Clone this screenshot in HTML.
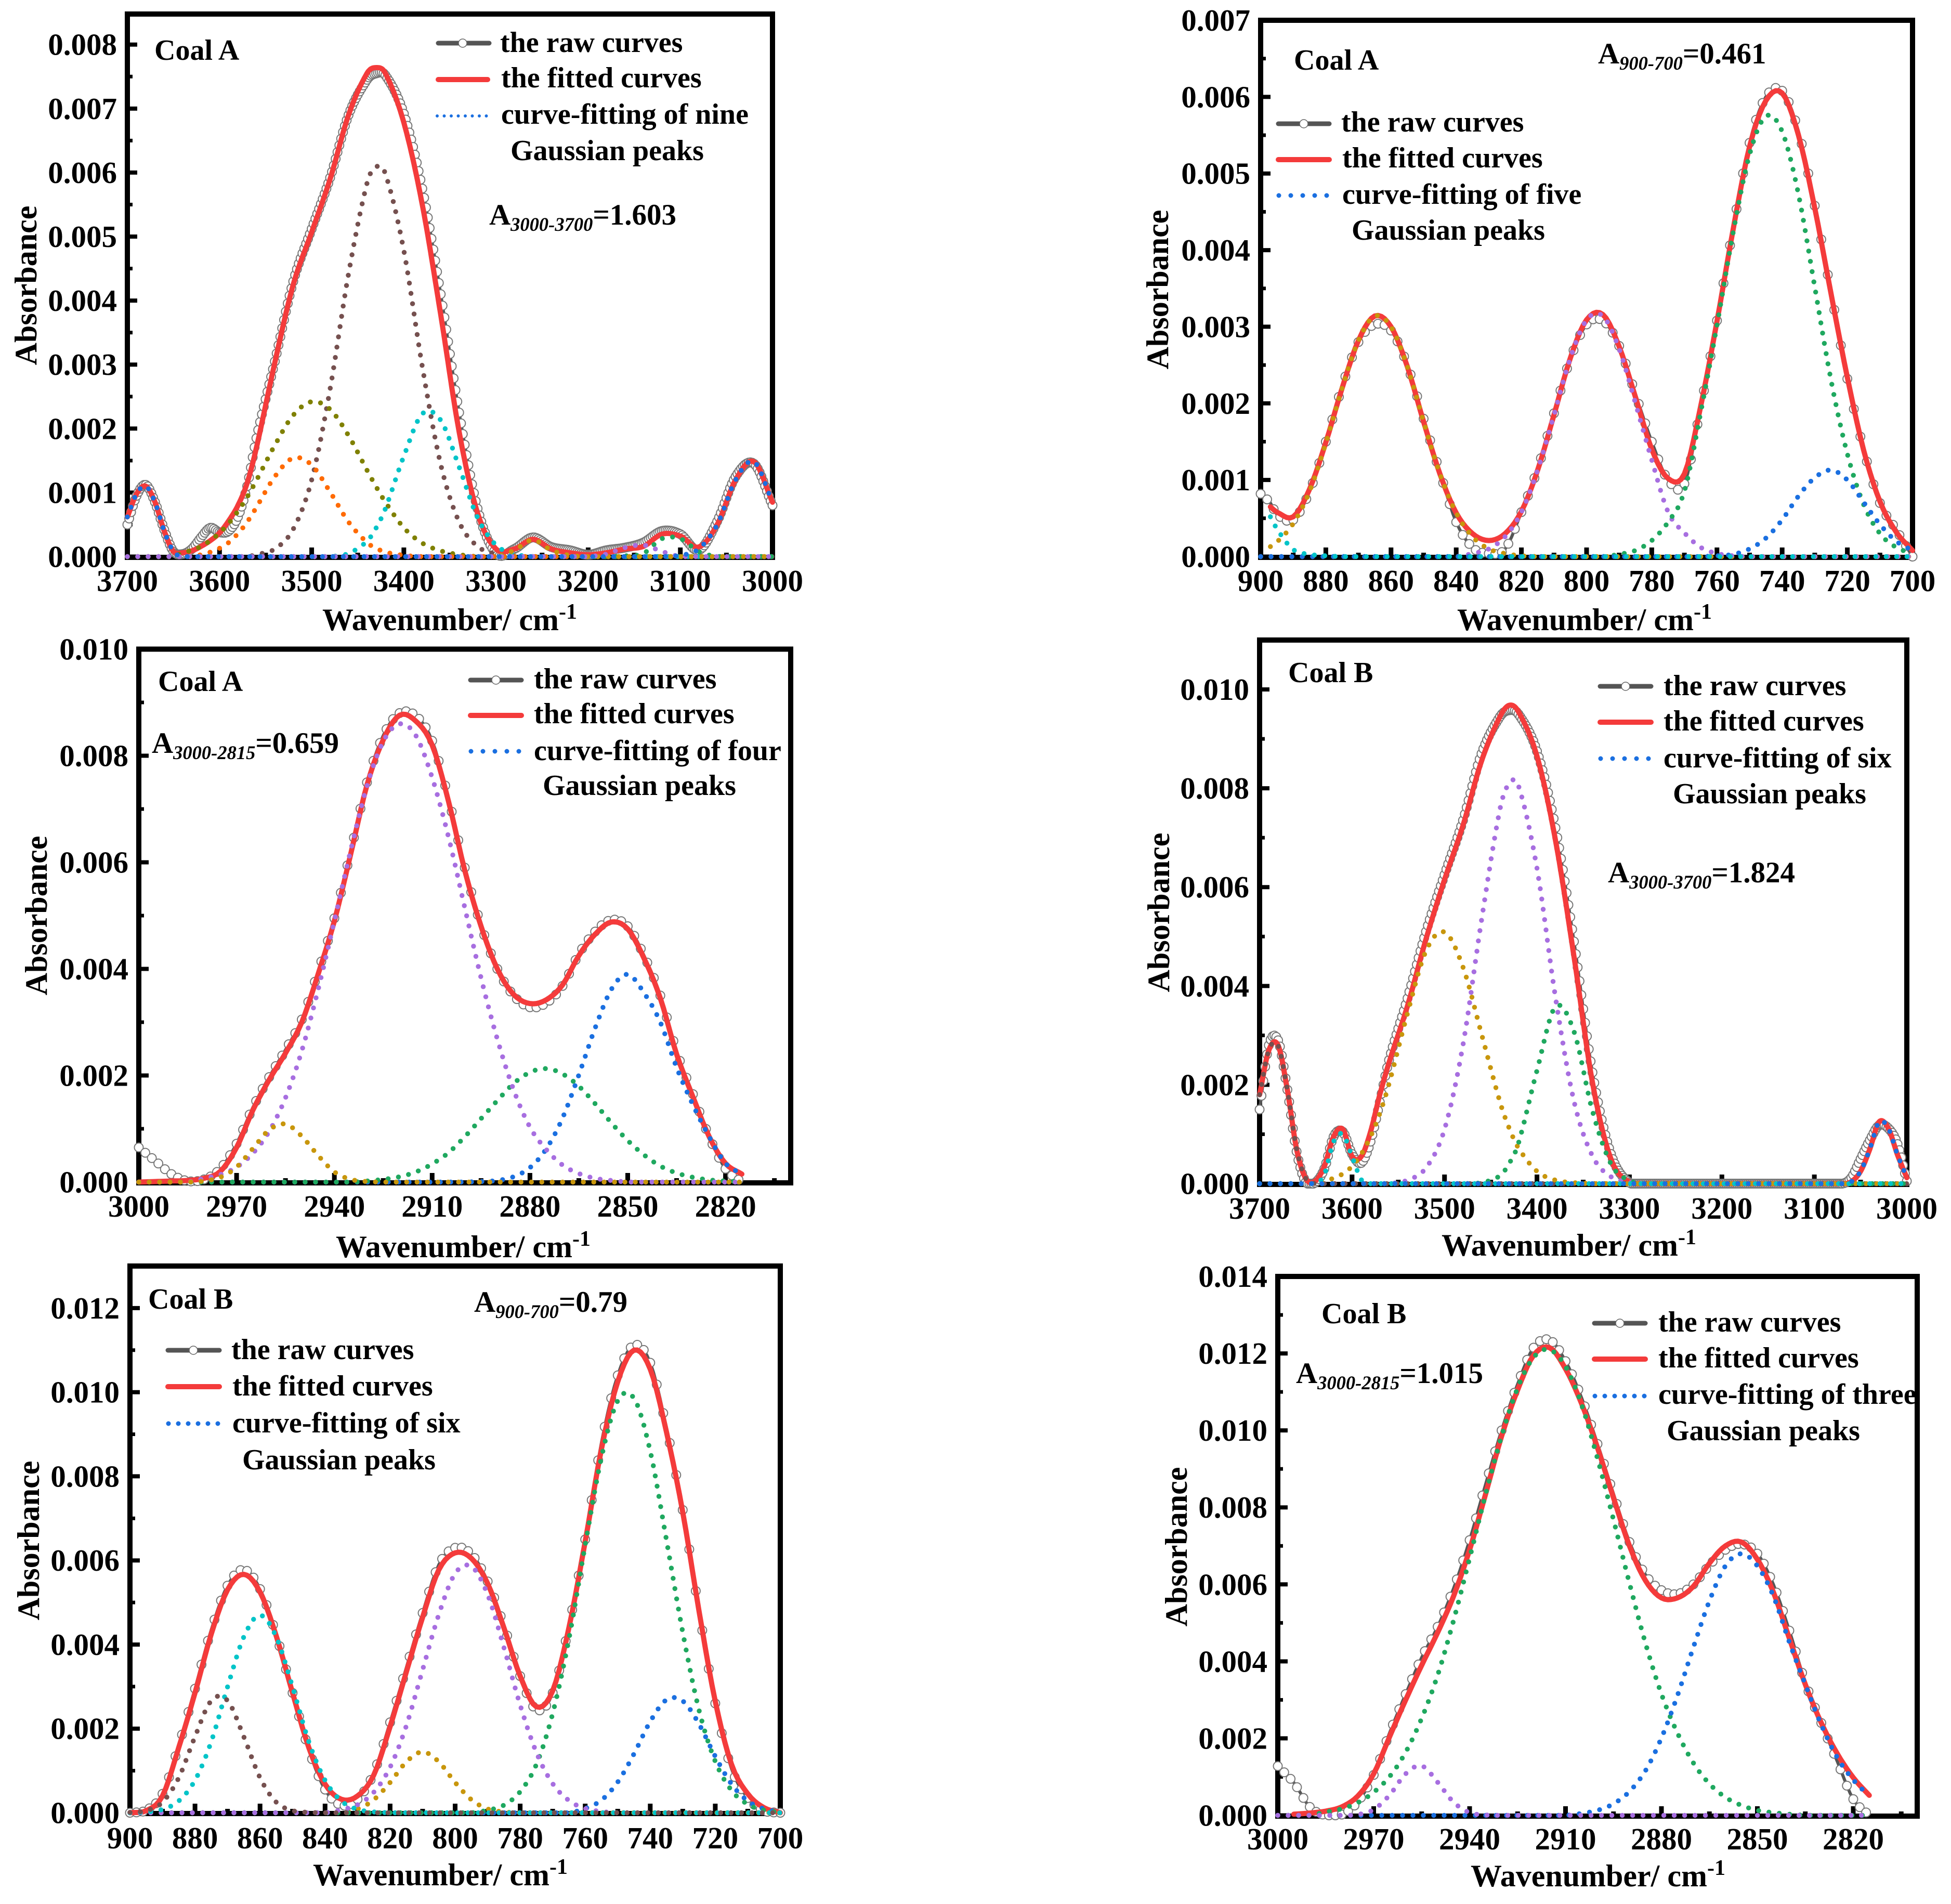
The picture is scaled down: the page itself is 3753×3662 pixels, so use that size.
<!DOCTYPE html>
<html lang="en">
<head>
<meta charset="utf-8">
<title>FTIR curve fitting of Coal A and Coal B</title>
<style>
html,body{margin:0;padding:0;background:#fff}
svg{display:block}
text{font-family:"Liberation Serif",serif;font-weight:bold;fill:#000}
.tick{font-size:59px}
.title{font-size:60px}
.leg{font-size:56px}
.coal{font-size:56px}
.area{font-size:57px}
.sub{font-size:36.5px;font-style:italic}
.sup{font-size:42px}
</style>
</head>
<body>
<svg xmlns="http://www.w3.org/2000/svg" width="3753" height="3662" viewBox="0 0 3753 3662">
<rect width="3753" height="3662" fill="#fff"/>

<g>
  <g id="p1"></g>
  <text class="title" text-anchor="middle" transform="translate(70 549) rotate(-90)">Absorbance</text>
  <text class="title" x="620" y="1212">Wavenumber/ cm<tspan class="sup" dy="-22">-1</tspan></text>
  <text class="coal" x="297" y="115">Coal A</text>
  <text class="area" x="941" y="432">A<tspan class="sub" dy="12">3000-3700</tspan><tspan dy="-12">=1.603</tspan></text>
  <line x1="843" x2="941" y1="83" y2="83" stroke="#555" stroke-width="9" stroke-linecap="round"/>
  <circle cx="890" cy="83" r="8" fill="#fff" stroke="#666" stroke-width="1.5"/>
  <line x1="843" x2="938" y1="153" y2="153" stroke="#f43b3b" stroke-width="10" stroke-linecap="round"/>
  <line x1="841" x2="938" y1="223" y2="223" stroke="#1a6fe0" stroke-width="6" stroke-linecap="round" stroke-dasharray="0 13.5"/>
  <text class="leg" x="962" y="100">the raw curves</text>
  <text class="leg" x="964" y="168">the fitted curves</text>
  <text class="leg" x="964" y="238">curve-fitting of nine</text>
  <text class="leg" x="982" y="308">Gaussian peaks</text>
</g>

<g>
  <g id="p2"></g>
  <text class="title" text-anchor="middle" transform="translate(2247 557) rotate(-90)">Absorbance</text>
  <text class="title" x="2803" y="1212">Wavenumber/ cm<tspan class="sup" dy="-22">-1</tspan></text>
  <text class="coal" x="2489" y="134">Coal A</text>
  <text class="area" x="3074" y="122">A<tspan class="sub" dy="12">900-700</tspan><tspan dy="-12">=0.461</tspan></text>
  <line x1="2459" x2="2557" y1="238" y2="238" stroke="#555" stroke-width="9" stroke-linecap="round"/>
  <circle cx="2508" cy="238" r="8" fill="#fff" stroke="#666" stroke-width="1.5"/>
  <line x1="2459" x2="2557" y1="307" y2="307" stroke="#f43b3b" stroke-width="10" stroke-linecap="round"/>
  <line x1="2460" x2="2556" y1="376" y2="376" stroke="#1a6fe0" stroke-width="9" stroke-linecap="round" stroke-dasharray="0 23"/>
  <text class="leg" x="2580" y="253">the raw curves</text>
  <text class="leg" x="2582" y="322">the fitted curves</text>
  <text class="leg" x="2582" y="392">curve-fitting of five</text>
  <text class="leg" x="2600" y="461">Gaussian peaks</text>
</g>

<g>
  <g id="p3"></g>
  <text class="title" text-anchor="middle" transform="translate(90 1761) rotate(-90)">Absorbance</text>
  <text class="title" x="646" y="2418">Wavenumber/ cm<tspan class="sup" dy="-22">-1</tspan></text>
  <text class="coal" x="304" y="1329">Coal A</text>
  <text class="area" x="292" y="1448">A<tspan class="sub" dy="12">3000-2815</tspan><tspan dy="-12">=0.659</tspan></text>
  <line x1="905" x2="1003" y1="1308" y2="1308" stroke="#555" stroke-width="9" stroke-linecap="round"/>
  <circle cx="954" cy="1308" r="8" fill="#fff" stroke="#666" stroke-width="1.5"/>
  <line x1="905" x2="1003" y1="1376" y2="1376" stroke="#f43b3b" stroke-width="10" stroke-linecap="round"/>
  <line x1="906" x2="1002" y1="1445" y2="1445" stroke="#1a6fe0" stroke-width="9" stroke-linecap="round" stroke-dasharray="0 23"/>
  <text class="leg" x="1027" y="1324">the raw curves</text>
  <text class="leg" x="1027" y="1391">the fitted curves</text>
  <text class="leg" x="1027" y="1462">curve-fitting of four</text>
  <text class="leg" x="1044" y="1529">Gaussian peaks</text>
</g>

<g>
  <g id="p4"></g>
  <text class="title" text-anchor="middle" transform="translate(2249 1755) rotate(-90)">Absorbance</text>
  <text class="title" x="2773" y="2415">Wavenumber/ cm<tspan class="sup" dy="-22">-1</tspan></text>
  <text class="coal" x="2478" y="1312">Coal B</text>
  <text class="area" x="3093" y="1697">A<tspan class="sub" dy="12">3000-3700</tspan><tspan dy="-12">=1.824</tspan></text>
  <line x1="3078" x2="3176" y1="1320" y2="1320" stroke="#555" stroke-width="9" stroke-linecap="round"/>
  <circle cx="3127" cy="1320" r="8" fill="#fff" stroke="#666" stroke-width="1.5"/>
  <line x1="3078" x2="3176" y1="1389" y2="1389" stroke="#f43b3b" stroke-width="10" stroke-linecap="round"/>
  <line x1="3079" x2="3175" y1="1459" y2="1459" stroke="#1a6fe0" stroke-width="9" stroke-linecap="round" stroke-dasharray="0 23"/>
  <text class="leg" x="3200" y="1337">the raw curves</text>
  <text class="leg" x="3200" y="1405">the fitted curves</text>
  <text class="leg" x="3200" y="1476">curve-fitting of six</text>
  <text class="leg" x="3218" y="1545">Gaussian peaks</text>
</g>

<g>
  <g id="p5"></g>
  <text class="title" text-anchor="middle" transform="translate(75 2963) rotate(-90)">Absorbance</text>
  <text class="title" x="602" y="3626">Wavenumber/ cm<tspan class="sup" dy="-22">-1</tspan></text>
  <text class="coal" x="285" y="2517">Coal B</text>
  <text class="area" x="912" y="2523">A<tspan class="sub" dy="12">900-700</tspan><tspan dy="-12">=0.79</tspan></text>
  <line x1="323" x2="422" y1="2597" y2="2597" stroke="#555" stroke-width="9" stroke-linecap="round"/>
  <circle cx="372" cy="2597" r="8" fill="#fff" stroke="#666" stroke-width="1.5"/>
  <line x1="323" x2="422" y1="2667" y2="2667" stroke="#f43b3b" stroke-width="10" stroke-linecap="round"/>
  <line x1="324" x2="420" y1="2738" y2="2738" stroke="#1a6fe0" stroke-width="9" stroke-linecap="round" stroke-dasharray="0 19"/>
  <text class="leg" x="445" y="2614">the raw curves</text>
  <text class="leg" x="447" y="2684">the fitted curves</text>
  <text class="leg" x="447" y="2755">curve-fitting of six</text>
  <text class="leg" x="466" y="2826">Gaussian peaks</text>
</g>

<g>
  <g id="p6"></g>
  <text class="title" text-anchor="middle" transform="translate(2283 2975) rotate(-90)">Absorbance</text>
  <text class="title" x="2829" y="3628">Wavenumber/ cm<tspan class="sup" dy="-22">-1</tspan></text>
  <text class="coal" x="2542" y="2545">Coal B</text>
  <text class="area" x="2493" y="2660">A<tspan class="sub" dy="12">3000-2815</tspan><tspan dy="-12">=1.015</tspan></text>
  <line x1="3067" x2="3165" y1="2545" y2="2545" stroke="#555" stroke-width="9" stroke-linecap="round"/>
  <circle cx="3116" cy="2545" r="8" fill="#fff" stroke="#666" stroke-width="1.5"/>
  <line x1="3067" x2="3165" y1="2614" y2="2614" stroke="#f43b3b" stroke-width="10" stroke-linecap="round"/>
  <line x1="3068" x2="3164" y1="2685" y2="2685" stroke="#1a6fe0" stroke-width="9" stroke-linecap="round" stroke-dasharray="0 19"/>
  <text class="leg" x="3190" y="2561">the raw curves</text>
  <text class="leg" x="3190" y="2630">the fitted curves</text>
  <text class="leg" x="3190" y="2700">curve-fitting of three</text>
  <text class="leg" x="3206" y="2770">Gaussian peaks</text>
</g>
</svg>

<script>
// ---------- Panel 1: Coal A, 3700-3000 ----------
const p1XTicks=[3700,3600,3500,3400,3300,3200,3100,3000];
const p1YTicks=[0,.001,.002,.003,.004,.005,.006,.007,.008];
const p1Wavenumbers=[3700,3690,3680,3670,3660,3650,3640,3630,3620,3610,
3600,3590,3580,3570,3560,3540,3520,3500,3480,3460,
3440,3430,3420,3400,3380,3360,3340,3320,3300,3280,
3260,3240,3220,3200,3180,3160,3140,3120,3100,3080,
3060,3040,3020,3000];
const p1Raw=[.00050,.00095,.00112,.00085,.00042,.00008,.00004,.00012,.00030,.00045,
.00038,.00040,.00062,.00110,.00185,.00305,.00430,.00512,.00592,.00690,
.00745,.00755,.00752,.00692,.00575,.00410,.00225,.00075,.00005,.00012,
.00030,.00015,.00010,.00003,.00010,.00014,.00022,.00040,.00035,.00010,
.00055,.00125,.00145,.00080];
const p1Fit=[.00062,.00098,.00110,.00085,.00040,.00008,.00006,.00009,.00016,.00025,
.00037,.00056,.00080,.00115,.00170,.00303,.00425,.00507,.00590,.00690,
.00755,.00764,.00755,.00678,.00550,.00378,.00195,.00068,.00012,.00012,
.00027,.00012,.00006,.00003,.00006,.00012,.00016,.00035,.00032,.00015,
.00050,.00120,.00148,.00085];
const p1Brown=[0,0,0,0,0,0,0,0,0,0,
0,0,0,0,.00003,.00012,.00043,.00120,.00262,.00442,
.00583,.00609,.00598,.00478,.00297,.00144,.00054,.00016,.00004,0,
0,0,0,0,0,0,0,0,0,0,
0,0,0,0];
const p1Olive=[0,0,0,0,0,0,.00006,.00010,.00016,.00025,
.00037,.00052,.00071,.00093,.00119,.00174,.00221,.00242,.00230,.00189,
.00135,.00109,.00085,.00045,.00021,.00009,.00003,0,0,0,
0,0,0,0,0,0,0,0,0,0,
0,0,0,0];
const p1Orange=[0,0,0,0,0,0,0,0,.00003,.00007,
.00013,.00022,.00036,.00054,.00077,.00125,.00154,.00143,.00101,.00054,
.00022,.00013,.00007,.00002,0,0,0,0,0,0,
0,0,0,0,0,0,0,0,0,0,
0,0,0,0];
const p1Cyan=[0,0,0,0,0,0,0,0,0,0,
0,0,0,0,0,0,0,0,0,.00005,
.00024,.00045,.00075,.00157,.00223,.00213,.00140,.00061,.00018,.00004,
0,0,0,0,0,0,0,0,0,0,
0,0,0,0];
const p1Green=[0,0,0,0,0,0,0,0,0,0,
0,0,0,0,0,0,0,0,0,0,
0,0,0,0,0,0,0,0,0,0,
0,0,0,0,0,.00001,.00005,.00028,.00028,.00008,
0,0,0,0];
const p1Gold=[0,0,0,0,0,0,0,0,0,0,
0,0,0,0,0,0,0,0,0,0,
0,0,0,0,0,0,0,0,0,.00010,
.00026,.00010,.00002,0,0,0,0,0,0,0,
0,0,0,0];
const p1Purple=[0,0,0,0,0,0,0,0,0,0,
0,0,0,0,0,0,0,0,0,0,
0,0,0,0,0,0,0,0,0,0,
0,0,0,0,.00004,.00014,.00018,.00008,0,0,
0,0,0,0];
const p1Blue=[.00062,.00098,.00110,.00085,.00040,.00008,0,0,0,0,
0,0,0,0,0,0,0,0,0,0,
0,0,0,0,0,0,0,0,0,0,
0,0,0,0,0,0,0,0,.00002,.00012,
.00050,.00120,.00148,.00085];

// ---------- Panel 2: Coal A, 900-700 ----------
const p2XTicks=[900,880,860,840,820,800,780,760,740,720,700];
const p2YTicks=[0,.001,.002,.003,.004,.005,.006,.007];
const p2Wavenumbers=[900,897,895,890,885,880,875,870,865,860,
855,850,845,840,835,830,825,820,815,810,
805,800,795,790,785,780,775,770,765,760,
755,750,745,740,735,730,725,720,715,710,
705,700];
const p2Raw=[.00082,.00070,.00055,.00048,.00085,.00150,.00222,.00280,.00303,.00295,
.00250,.00180,.00110,.00045,.00012,.00004,.00010,.00058,.00115,.00187,
.00258,.00303,.00308,.00275,.00212,.00150,.00100,.00095,.00195,.00308,
.00430,.00540,.00600,.00608,.00555,.00458,.00345,.00232,.00140,.00070,
.00035,.00000];
const p2Fit=[null,.00065,.00058,.00052,.00088,.00149,.00220,.00282,.00314,.00300,
.00248,.00176,.00108,.00057,.00030,.00021,.00030,.00059,.00113,.00185,
.00259,.00309,.00316,.00274,.00208,.00140,.00102,.00108,.00196,.00307,
.00428,.00535,.00595,.00605,.00550,.00455,.00343,.00234,.00139,.00072,
.00032,.00008];
const p2Gold=[null,.00013,.00019,.00043,.00085,.00148,.00220,.00282,.00314,.00300,
.00248,.00176,.00108,.00057,.00026,.00010,.00004,.00001,0,0,
0,0,0,0,0,0,0,0,0,0,
0,0,0,0,0,0,0,0,0,0,
0,0];
const p2Cyan=[null,.00052,.00036,.00009,.00003,.00001,0,0,0,0,
0,0,0,0,0,0,0,0,0,0,
0,0,0,0,0,0,0,0,0,0,
0,0,0,0,0,0,0,0,0,0,
0,0];
const p2Purple=[0,0,0,0,0,0,0,0,0,0,
0,0,0,0,.00004,.00010,.00026,.00058,.00113,.00185,
.00259,.00309,.00314,.00271,.00200,.00126,.00058,.00031,.00012,.00004,
.00001,0,0,0,0,0,0,0,0,0,
0,0];
const p2Green=[0,0,0,0,0,0,0,0,0,0,
0,0,0,0,0,0,0,0,0,0,
0,0,0,.00003,.00008,.00021,.00045,.00085,.00188,.00302,
.00424,.00525,.00575,.00555,.00473,.00352,.00230,.00134,.00068,.00030,
.00012,.00004];
const p2Blue=[0,0,0,0,0,0,0,0,0,0,
0,0,0,0,0,0,0,0,0,0,
0,0,0,0,0,0,0,0,0,.00001,
.00003,.00010,.00024,.00048,.00079,.00103,.00113,.00100,.00071,.00042,
.00020,.00008];

// ---------- Panel 3: Coal A, 3000-2800 ----------
const p3XTicks=[3000,2970,2940,2910,2880,2850,2820];
const p3YTicks=[0,.002,.004,.006,.008,.010];
const p3Wavenumbers=[3000,2995,2990,2985,2980,2975,2970,2965,2960,2955,
2950,2945,2940,2935,2930,2925,2920,2915,2910,2905,
2900,2895,2890,2885,2880,2875,2870,2865,2860,2855,
2850,2845,2840,2835,2830,2825,2820,2815];
const p3Raw=[.00065,.00040,.00015,.00002,.00005,.00025,.00072,.00140,.00197,.00248,
.00305,.00395,.00495,.00620,.00750,.00838,.00880,.00875,.00828,.00720,
.00590,.00482,.00400,.00350,.00328,.00336,.00368,.00428,.00470,.00492,
.00480,.00425,.00350,.00245,.00165,.00085,.00025,.00000];
const p3Fit=[.00000,.00001,.00002,.00003,.00007,.00020,.00065,.00135,.00192,.00242,
.00300,.00390,.00490,.00615,.00745,.00830,.00876,.00865,.00820,.00715,
.00585,.00480,.00400,.00352,.00335,.00342,.00370,.00425,.00465,.00488,
.00475,.00420,.00345,.00240,.00160,.00085,.00035,.00015];
const p3Purple=[0,0,0,0,.00007,.00014,.00028,.00054,.00095,.00158,
.00246,.00361,.00490,.00622,.00743,.00827,.00860,.00838,.00759,.00648,
.00515,.00383,.00268,.00173,.00103,.00061,.00032,.00016,.00007,.00003,
0,0,0,0,0,0,0,0];
const p3Gold=[0,0,0,0,.00002,.00009,.00028,.00063,.00098,.00109,
.00086,.00050,.00019,.00005,.00001,0,0,0,0,0,
0,0,0,0,0,0,0,0,0,0,
0,0,0,0,0,0,0,0];
const p3Green=[0,0,0,0,0,0,0,0,0,0,
0,0,0,0,.00002,.00005,.00010,.00019,.00034,.00055,
.00085,.00119,.00153,.00185,.00206,.00213,.00203,.00180,.00147,.00111,
.00078,.00051,.00030,.00017,.00009,.00004,.00002,.00001];
const p3Blue=[0,0,0,0,0,0,0,0,0,0,
0,0,0,0,0,0,0,0,0,0,
.00000,.00001,.00003,.00010,.00027,.00062,.00120,.00201,.00289,.00362,
.00390,.00355,.00300,.00215,.00145,.00085,.00035,.00015];

// ---------- Panel 4: Coal B, 3700-3000 ----------
const p4XTicks=[3700,3600,3500,3400,3300,3200,3100,3000];
const p4YTicks=[0,.002,.004,.006,.008,.010];
const p4Wavenumbers=[3700,3690,3680,3670,3660,3650,3640,3630,3620,3610,
3600,3590,3580,3570,3560,3540,3520,3500,3480,3460,
3440,3430,3420,3400,3380,3360,3340,3320,3300,3280,
3200,3100,3070,3060,3050,3040,3030,3020,3010,3000];
const p4Raw=[.00150,.00280,.00290,.00190,.00065,.00003,.00002,.00030,.00095,.00105,
.00060,.00042,.00085,.00165,.00250,.00375,.00510,.00625,.00735,.00870,
.00945,.00958,.00950,.00875,.00720,.00490,.00225,.00060,.00002,0,
0,0,0,.00012,.00050,.00088,.00118,.00112,.00080,.00005];
const p4Fit=[.00180,.00270,.00280,.00190,.00070,.00010,.00005,.00035,.00095,.00110,
.00055,.00055,.00105,.00180,.00245,.00360,.00495,.00615,.00725,.00855,
.00945,.00968,.00955,.00865,.00695,.00460,.00205,.00050,.00003,0,
0,0,0,.00004,.00025,.00070,.00125,.00112,.00058,.00012];
const p4Brown=[.00180,.00270,.00280,.00190,.00070,.00010,0,0,0,0,
0,0,0,0,0,0,0,0,0,0,
0,0,0,0,0,0,0,0,0,0,
0,0,0,0,0,0,0,0,0,0];
const p4Cyan=[0,0,0,0,0,0,0,.00018,.00085,.00100,
.00055,.00008,0,0,0,0,0,0,0,0,
0,0,0,0,0,0,0,0,0,0,
0,0,0,0,0,0,0,0,0,0];
const p4Gold=[0,0,0,0,0,0,0,.00005,.00011,.00020,
.00035,.00060,.00095,.00142,.00202,.00345,.00471,.00509,.00438,.00303,
.00165,.00112,.00072,.00025,.00007,.00002,0,0,0,0,
0,0,0,0,0,0,0,0,0,0];
const p4Purple=[0,0,0,0,0,0,0,0,0,0,
0,0,0,0,0,.00007,.00032,.00110,.00281,.00533,
.00758,.00810,.00805,.00638,.00377,.00167,.00056,.00014,.00003,0,
0,0,0,0,0,0,0,0,0,0];
const p4Green=[0,0,0,0,0,0,0,0,0,0,
0,0,0,0,0,0,0,0,0,.00002,
.00016,.00041,.00082,.00229,.00358,.00308,.00147,.00040,.00006,0,
0,0,0,0,0,0,0,0,0,0];
const p4Blue=[0,0,0,0,0,0,0,0,0,0,
0,0,0,0,0,0,0,0,0,0,
0,0,0,0,0,0,0,0,0,0,
0,0,0,.00004,.00025,.00070,.00125,.00112,.00058,.00012];

// ---------- Panel 5: Coal B, 900-700 ----------
const p5XTicks=[900,880,860,840,820,800,780,760,740,720,700];
const p5YTicks=[0,.002,.004,.006,.008,.010,.012];
const p5Wavenumbers=[900,895,890,885,880,875,870,865,860,855,
850,845,840,835,830,825,820,815,810,805,
800,795,790,785,780,775,770,765,760,755,
750,745,740,735,730,725,720,715,710,705,
700];
const p5Raw=[0,.00006,.00045,.00160,.00295,.00435,.00540,.00578,.00532,.00422,
.00285,.00150,.00055,.00018,.00032,.00095,.00215,.00345,.00475,.00590,
.00630,.00615,.00550,.00445,.00325,.00245,.00285,.00445,.00650,.00880,
.01040,.01112,.01070,.00915,.00720,.00480,.00260,.00105,.00035,.00005,
0];
const p5Fit=[0,.00005,.00040,.00155,.00285,.00425,.00530,.00567,.00525,.00420,
.00285,.00155,.00068,.00032,.00040,.00090,.00205,.00335,.00465,.00578,
.00618,.00605,.00545,.00440,.00325,.00252,.00290,.00440,.00645,.00865,
.01025,.01100,.01055,.00905,.00715,.00480,.00265,.00115,.00045,.00012,
0];
const p5Brown=[.00001,.00005,.00025,.00083,.00181,.00267,.00267,.00181,.00083,.00025,
.00005,.00001,0,0,0,0,0,0,0,0,
0,0,0,0,0,0,0,0,0,0,
0,0,0,0,0,0,0,0,0,0,
0];
const p5Cyan=[0,.00002,.00008,.00028,.00077,.00169,.00299,.00418,.00470,.00418,
.00299,.00169,.00077,.00028,.00008,.00002,0,0,0,0,
0,0,0,0,0,0,0,0,0,0,
0,0,0,0,0,0,0,0,0,0,
0];
const p5Gold=[0,0,0,0,0,0,0,0,0,0,
0,0,0,.00002,.00009,.00031,.00072,.00121,.00145,.00121,
.00072,.00031,.00009,.00002,0,0,0,0,0,0,
0,0,0,0,0,0,0,0,0,0,
0];
const p5Purple=[0,0,0,0,0,0,0,0,0,0,
0,0,0,.00007,.00019,.00049,.00108,.00207,.00340,.00472,
.00569,.00586,.00519,.00393,.00256,.00143,.00069,.00029,.00010,.00003,
0,0,0,0,0,0,0,0,0,0,
0];
const p5Green=[0,0,0,0,0,0,0,0,0,0,
0,0,0,0,0,0,0,0,0,0,
0,0,.00006,.00018,.00050,.00115,.00236,.00413,.00637,.00845,
.00980,.00986,.00860,.00648,.00429,.00244,.00122,.00053,.00020,.00006,
.00001];
const p5Blue=[0,0,0,0,0,0,0,0,0,0,
0,0,0,0,0,0,0,0,0,0,
0,0,0,0,0,0,0,0,.00010,.00030,
.00073,.00140,.00217,.00269,.00266,.00211,.00134,.00068,.00028,.00009,
.00002];

// ---------- Panel 6: Coal B, 3000-2800 ----------
const p6XTicks=[3000,2970,2940,2910,2880,2850,2820];
const p6YTicks=[0,.002,.004,.006,.008,.010,.012,.014];
const p6Wavenumbers=[3000,2995,2990,2985,2980,2975,2970,2965,2960,2955,
2950,2945,2940,2935,2930,2925,2920,2915,2910,2905,
2900,2895,2890,2885,2880,2875,2870,2865,2860,2855,
2850,2845,2840,2835,2830,2825,2820,2815];
const p6Raw=[.00128,.00085,.00022,.00000,.00002,.00035,.00105,.00215,.00315,.00410,
.00490,.00590,.00715,.00860,.01000,.01120,.01215,.01235,.01180,.01085,
.00965,.00835,.00710,.00625,.00585,.00575,.00600,.00650,.00690,.00705,
.00680,.00600,.00480,.00345,.00240,.00140,.00042,.00000];
const p6Fit=[null,.00003,.00006,.00011,.00022,.00050,.00108,.00205,.00300,.00390,
.00475,.00570,.00690,.00835,.00985,.01105,.01195,.01215,.01160,.01070,
.00955,.00825,.00700,.00610,.00565,.00565,.00595,.00655,.00700,.00710,
.00665,.00580,.00460,.00340,.00240,.00160,.00098,.00052];
const p6Green=[0,0,0,.00009,.00017,.00033,.00060,.00101,.00164,.00252,
.00364,.00507,.00668,.00834,.00985,.01110,.01190,.01210,.01166,.01068,
.00927,.00768,.00603,.00447,.00315,.00214,.00136,.00082,.00047,.00026,
.00013,.00007,.00003,0,0,0,0,0];
const p6Blue=[0,0,0,0,0,0,0,0,0,0,
0,0,0,0,0,0,0,0,0,.00005,
.00013,.00030,.00062,.00116,.00201,.00311,.00437,.00557,.00648,.00680,
.00648,.00570,.00450,.00340,.00235,.00150,.00092,.00050];
const p6Purple=[0,0,0,0,0,.00002,.00015,.00053,.00108,.00129,
.00086,.00034,.00007,.00001,0,0,0,0,0,0,
0,0,0,0,0,0,0,0,0,0,
0,0,0,0,0,0,0,0];

const COLORS={brown:'#75504f',olive:'#7f8000',orange:'#ff6a00',cyan:'#00c4c8',green:'#1fa85f',gold:'#c8960c',purple:'#a76ee0',blue:'#1a6fe0'};

const panels=[
 {id:'p1',frame:{l:245,r:1486,t:27,b:1072},xRange:[3700,3000],yMax:.008477,xTicks:p1XTicks,yTicks:p1YTicks,labelDrop:65,wn:p1Wavenumbers,raw:p1Raw,fit:p1Fit,r:8.5,
  peaks:[['brown',p1Brown],['olive',p1Olive],['orange',p1Orange],['cyan',p1Cyan],['green',p1Green],['gold',p1Gold],['purple',p1Purple],['blue',p1Blue]]},
 {id:'p2',frame:{l:2425,r:3679,t:39,b:1072},xRange:[900,700],yMax:.007,xTicks:p2XTicks,yTicks:p2YTicks,labelDrop:65,wn:p2Wavenumbers,raw:p2Raw,fit:p2Fit,r:8.5,
  peaks:[['gold',p2Gold],['purple',p2Purple],['green',p2Green],['blue',p2Blue],['cyan',p2Cyan]]},
 {id:'p3',frame:{l:267,r:1521,t:1248.5,b:2275},xRange:[3000,2800],yMax:.010,xTicks:p3XTicks,yTicks:p3YTicks,labelDrop:65,wn:p3Wavenumbers,raw:p3Raw,fit:p3Fit,r:8.5,
  peaks:[['blue',p3Blue],['green',p3Green],['purple',p3Purple],['gold',p3Gold]]},
 {id:'p4',frame:{l:2423,r:3668,t:1231,b:2278},xRange:[3700,3000],yMax:.011,xTicks:p4XTicks,yTicks:p4YTicks,labelDrop:66,wn:p4Wavenumbers,raw:p4Raw,fit:p4Fit,r:8.5,
  peaks:[['brown',p4Brown],['gold',p4Gold],['purple',p4Purple],['green',p4Green],['cyan',p4Cyan],['blue',p4Blue]]},
 {id:'p5',frame:{l:250,r:1501,t:2435,b:3488},xRange:[900,700],yMax:.013,xTicks:p5XTicks,yTicks:p5YTicks,labelDrop:67,wn:p5Wavenumbers,raw:p5Raw,fit:p5Fit,r:8.5,
  peaks:[['gold',p5Gold],['blue',p5Blue],['green',p5Green],['purple',p5Purple],['cyan',p5Cyan],['brown',p5Brown]]},
 {id:'p6',frame:{l:2458,r:3688,t:2455,b:3493},xRange:[3000,2800],yMax:.014,xTicks:p6XTicks,yTicks:p6YTicks,labelDrop:64,wn:p6Wavenumbers,raw:p6Raw,fit:p6Fit,r:8.5,
  peaks:[['green',p6Green],['blue',p6Blue],['purple',p6Purple]]}
];

const SVGNS='http://www.w3.org/2000/svg';
function make(tag,attrs,parent){
  const node=document.createElementNS(SVGNS,tag);
  for(const k in attrs){node.setAttribute(k,attrs[k]);}
  parent.appendChild(node);
  return node;
}
// Smooth curve through the read values (cubic Hermite in data space).
function curveFrom(wn,vals){
  const xs=[],ys=[];
  for(let i=0;i<wn.length;i++){
    if(vals[i]!==null&&vals[i]!==undefined){xs.push(wn[i]);ys.push(vals[i]);}
  }
  const slope=i=>{
    const a=Math.max(0,i-1),b=Math.min(xs.length-1,i+1);
    return (ys[b]-ys[a])/(xs[b]-xs[a]);
  };
  const at=x=>{
    let i=0;
    while(i<xs.length-2&&x<xs[i+1]){i++;}
    const h=xs[i+1]-xs[i],t=(x-xs[i])/h;
    const t2=t*t,t3=t2*t;
    const v=(2*t3-3*t2+1)*ys[i]+(t3-2*t2+t)*h*slope(i)+(-2*t3+3*t2)*ys[i+1]+(t3-t2)*h*slope(i+1);
    return Math.max(0,v);
  };
  return {at,first:xs[0],last:xs[xs.length-1]};
}
function linePath(curve,sx,sy,step){
  let d='';
  for(let x=curve.first;x>curve.last;x-=step){
    d+=(d?'L':'M')+sx(x).toFixed(1)+' '+sy(curve.at(x)).toFixed(1);
  }
  d+='L'+sx(curve.last).toFixed(1)+' '+sy(curve.at(curve.last)).toFixed(1);
  return d;
}

panels.forEach(function(p){
  const root=document.getElementById(p.id);
  const f=p.frame;
  const y0=f.b-1.5;
  const sx=v=>f.l+(p.xRange[0]-v)/(p.xRange[0]-p.xRange[1])*(f.r-f.l);
  const sy=v=>y0-v/p.yMax*(y0-f.t);

  // axis frame
  const frame=make('rect',{x:f.l,y:f.t,width:f.r-f.l,height:f.b-f.t,fill:'none',stroke:'#000','stroke-width':10},root);
  
  

  // x ticks
  const xStep=p.xTicks[0]-p.xTicks[1];
  p.xTicks.forEach(function(v){
    const t=make('line',{x1:sx(v),x2:sx(v),y1:f.b,y2:f.b-19,stroke:'#000','stroke-width':9},root);
    
    
    const lab=make('text',{x:sx(v),y:f.b+p.labelDrop,'text-anchor':'middle','class':'tick'},root);
    
    
    lab.textContent=String(v);
  });
  for(let v=p.xTicks[0]-xStep/2;v>p.xRange[1];v-=xStep){
    const t=make('line',{x1:sx(v),x2:sx(v),y1:f.b,y2:f.b-9,stroke:'#000','stroke-width':9},root);
    
    
  }
  // y ticks
  const yStep=p.yTicks[1]-p.yTicks[0];
  p.yTicks.forEach(function(v){
    const t=make('line',{x1:f.l,x2:f.l+19,y1:sy(v),y2:sy(v),stroke:'#000','stroke-width':8},root);
    
    
    const lab=make('text',{x:f.l-20,y:sy(v)+20,'text-anchor':'end','class':'tick'},root);
    
    
    lab.textContent=v.toFixed(3);
  });
  for(let v=yStep/2;v<p.yMax;v+=yStep){
    const t=make('line',{x1:f.l,x2:f.l+10,y1:sy(v),y2:sy(v),stroke:'#000','stroke-width':7},root);
    
    
  }

  // raw curve: line plus open-circle markers
  const rawCurve=curveFrom(p.wn,p.raw);
  const rawLine=make('path',{d:linePath(rawCurve,sx,sy,1),fill:'none',stroke:'#555','stroke-width':6},root);
  
  
  for(let x=rawCurve.first;x>=rawCurve.last;x-=2){
    const c=make('circle',{cx:sx(x).toFixed(1),cy:sy(rawCurve.at(x)).toFixed(1),r:p.r,fill:'#fff',stroke:'#777','stroke-width':2},root);
    
    
  }

  // fitted curve
  const fitCurve=curveFrom(p.wn,p.fit);
  const fitLine=make('path',{d:linePath(fitCurve,sx,sy,1),fill:'none',stroke:'#f43b3b','stroke-width':10,'stroke-linejoin':'round','stroke-linecap':'round'},root);
  
  

  // Gaussian peaks as dotted lines
  p.peaks.forEach(function(entry){
    const peakCurve=curveFrom(p.wn,entry[1]);
    const dots=make('path',{d:linePath(peakCurve,sx,sy,1),fill:'none',stroke:COLORS[entry[0]],'stroke-width':9.5,'stroke-linecap':'round','stroke-dasharray':'0 20'},root);
    
    
  });
});
</script>
</body>
</html>
